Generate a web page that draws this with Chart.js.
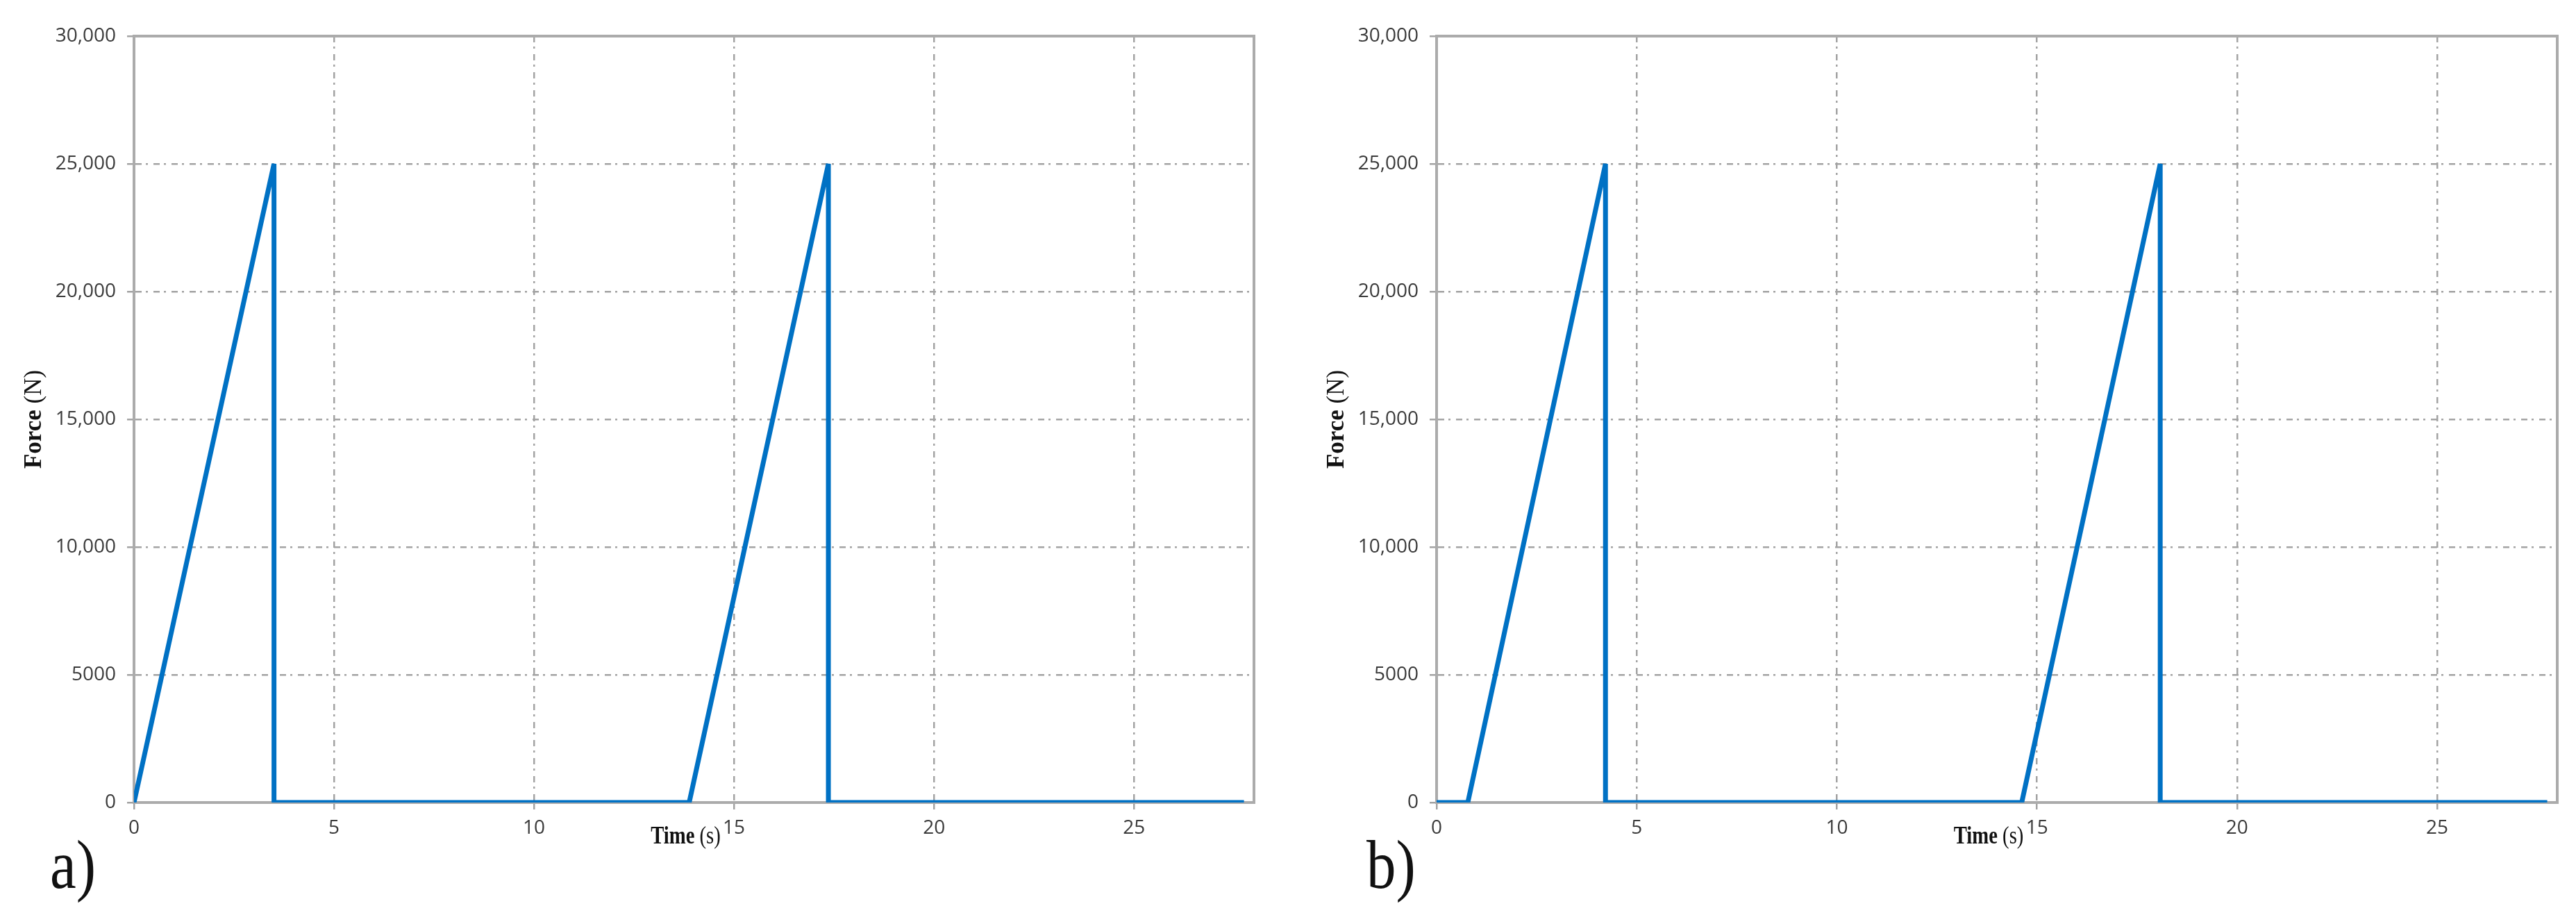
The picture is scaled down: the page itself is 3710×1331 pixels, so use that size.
<!DOCTYPE html>
<html>
<head>
<meta charset="utf-8">
<script src="https://cdn.jsdelivr.net/npm/chart.js@4.4.1/dist/chart.umd.min.js"></script>
<style>
html, body { margin: 0; padding: 0; background: #fff; }
body { width: 3710px; height: 1331px; position: relative; overflow: hidden; }
canvas { position: absolute; top: 0; }
#chartA { left: 0; }
#chartB { left: 1855px; }
.tag { position: absolute; font-family: "Liberation Serif", "Times New Roman", serif; font-size: 100px; line-height: 1; color: #111; transform: scaleX(0.85); transform-origin: left top; }
</style>
</head>
<body>
<canvas id="chartA" width="1855" height="1331"></canvas>
<canvas id="chartB" width="1855" height="1331"></canvas>
<div class="tag" style="left:72px; top:1196px;">a)</div>
<div class="tag" style="left:1968px; top:1196px;">b)</div>
<script>
// tick labels
var xTickLabels = ['0', '5', '10', '15', '20', '25'];
var yTickLabels = ['0', '5000', '10,000', '15,000', '20,000', '25,000', '30,000'];

// axis captions: bold word + plain unit
var xCaption = [{text: 'Time ', bold: true}, {text: '(s)', bold: false}];
var yCaption = [{text: 'Force ', bold: true}, {text: '(N)', bold: false}];

// a) force vs time
var timeA  = [0, 3.5, 3.5, 13.88, 17.36, 17.36, 27.75];
var forceA = [0, 25000, 0, 0, 25000, 0, 0];

// b) force vs time
var timeB  = [0, 0.78, 4.22, 4.22, 14.62, 18.08, 18.08, 27.75];
var forceB = [0, 0, 25000, 0, 0, 25000, 0, 0];

var tickFont = '"Open Sans", "Noto Sans", sans-serif';
var titleFont = '"Liberation Serif", "Times New Roman", serif';
var gridGray = '#a3a3a3';

function points(ts, fs) {
  return ts.map(function(t, i) { return {x: t, y: fs[i]}; });
}

function drawCaption(ctx, parts, cx, cy, rot, sx) {
  ctx.save();
  ctx.translate(cx, cy);
  ctx.rotate(rot);
  ctx.scale(sx, 1);
  ctx.textBaseline = 'middle';
  ctx.fillStyle = '#111';
  var widths = parts.map(function(p) {
    ctx.font = (p.bold ? 'bold ' : '') + '35px ' + titleFont;
    return ctx.measureText(p.text).width;
  });
  var x = -widths.reduce(function(s, w) { return s + w; }, 0) / 2;
  parts.forEach(function(p, i) {
    ctx.font = (p.bold ? 'bold ' : '') + '35px ' + titleFont;
    ctx.fillText(p.text, x, 0);
    x += widths[i];
  });
  ctx.restore();
}

// closes the plot box (top + right edges) and writes the axis captions
var frameBox = {
  id: 'frameBox',
  beforeDatasetsDraw: function(chart) {
    var a = chart.chartArea, ctx = chart.ctx;
    ctx.save();
    ctx.setLineDash([]);
    ctx.strokeStyle = '#ababab';
    ctx.lineWidth = 4;
    ctx.strokeRect(a.left, a.top, a.right - a.left, a.bottom - a.top);
    ctx.restore();
  },
  afterDraw: function(chart) {
    var a = chart.chartArea, ctx = chart.ctx;
    drawCaption(ctx, xCaption, (a.left + a.right) / 2 - 12, a.bottom + 50, 0, 0.82);
    drawCaption(ctx, yCaption, a.left - 143, (a.top + a.bottom) / 2, -Math.PI / 2, 1);
  }
};

function gridOpts() {
  return {
    color: gridGray,
    lineWidth: 2.5,
    tickLength: 10,
    tickColor: gridGray,
    tickWidth: 2.5,
    tickBorderDash: [9, 6, 3, 8]
  };
}

function makeChart(id, ts, fs, padLeft, padRight) {
  return new Chart(document.getElementById(id), {
    type: 'line',
    data: {
      datasets: [{
        data: points(ts, fs),
        borderColor: '#0071c4',
        borderWidth: 7,
        borderJoinStyle: 'bevel',
        pointRadius: 0,
        tension: 0,
        fill: false
      }]
    },
    options: {
      responsive: false,
      animation: false,
      devicePixelRatio: 1,
      layout: {padding: {left: padLeft, right: padRight, top: 52, bottom: 0}},
      plugins: {legend: {display: false}, tooltip: {enabled: false}},
      scales: {
        x: {
          type: 'linear',
          min: 0,
          max: 28,
          afterFit: function(s) { s.height = 175; },
          ticks: {
            stepSize: 5,
            includeBounds: false,
            padding: 10,
            maxRotation: 0,
            color: '#3a3a3a',
            font: {family: tickFont, size: 28},
            callback: function(v) { return xTickLabels[Math.round(v / 5)]; }
          },
          grid: gridOpts(),
          border: {display: true, color: '#ababab', width: 4, dash: [9, 6, 3, 8]}
        },
        y: {
          min: 0,
          max: 30000,
          afterFit: function(s) { s.width = 193; },
          ticks: {
            stepSize: 5000,
            padding: 16,
            color: '#3a3a3a',
            font: {family: tickFont, size: 28},
            callback: function(v) { return yTickLabels[Math.round(v / 5000)]; }
          },
          grid: gridOpts(),
          border: {display: true, color: '#ababab', width: 4, dash: [9, 6, 3, 8]}
        }
      }
    },
    plugins: [frameBox]
  });
}

makeChart('chartA', timeA, forceA, 0, 49);
makeChart('chartB', timeB, forceB, 21, 27);
</script>
</body>
</html>
